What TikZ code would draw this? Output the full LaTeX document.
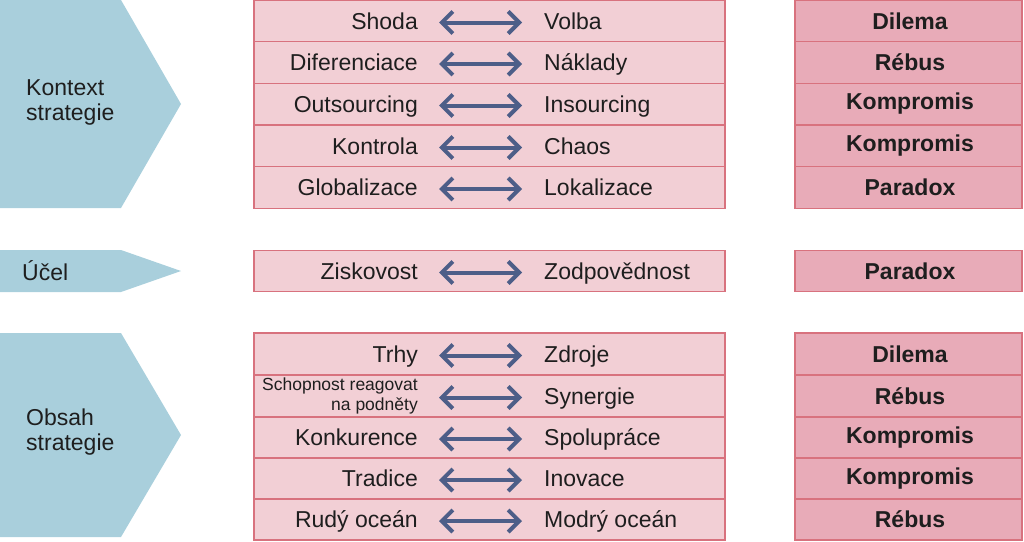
\documentclass[tikz,border=0pt]{standalone}
\usepackage{fontspec}
\setmainfont{Liberation Sans}
\usetikzlibrary{arrows.meta}
\definecolor{chev}{HTML}{A9CFDC}
\definecolor{midfill}{HTML}{F2CFD5}
\definecolor{rightfill}{HTML}{E8ABB8}
\definecolor{boxline}{HTML}{D8727E}
\definecolor{arrowc}{HTML}{4D5E88}
\definecolor{txt}{HTML}{1E1E1E}
\tikzset{
  chevshape/.style={fill=chev, draw=none},
  midbox/.style={draw=boxline, line width=1.2pt, fill=midfill, minimum width=471pt, inner sep=0pt, anchor=center},
  rightbox/.style={draw=boxline, line width=1.2pt, fill=rightfill, minimum width=227pt, inner sep=0pt, anchor=center},
  verdict/.style={inner sep=0pt, anchor=center, font=\fontsize{23}{27}\selectfont\bfseries, text=txt},
  lefttxt/.style={anchor=base east, inner sep=0pt, font=\fontsize{23}{27}\selectfont, text=txt},
  righttxt/.style={anchor=base west, inner sep=0pt, font=\fontsize{23}{27}\selectfont, text=txt},
  chevtxt/.style={anchor=west, inner sep=0pt, align=left, font=\fontsize{23}{25}\selectfont, text=txt},
  dbl/.style={draw=arrowc, line width=4pt, {Straight Barb[length=11pt,width=22pt]}-{Straight Barb[length=11pt,width=22pt]}}
}
\begin{document}
\begin{tikzpicture}[x=1pt,y=-1pt]
\useasboundingbox (0,0) rectangle (1024,541);
% chevrons
\fill[chevshape] (0,0) -- (121,0) -- (181,104) -- (121,208) -- (0,208) -- cycle;
\fill[chevshape] (0,250) -- (121,250) -- (181,271) -- (121,292) -- (0,292) -- cycle;
\fill[chevshape] (0,333) -- (121,333) -- (181,435) -- (121,537) -- (0,537) -- cycle;
\node[chevtxt] (kontext) at (26,102) {Kontext\\strategie};
\node[chevtxt] (ucel) at (22,271) {Účel};
\node[chevtxt] (obsah) at (26,432) {Obsah\\strategie};
% rows: y-center / height / left / right / verdict / name
\foreach \yc/\h/\l/\r/\v/\n in {
  21/41.5/Shoda/Volba/Dilema/a,
  62.5/41.5/Diferenciace/Náklady/Rébus/b,
  104/41.5/Outsourcing/Insourcing/Kompromis/c,
  146/41.5/Kontrola/Chaos/Kompromis/d,
  187.5/41.5/Globalizace/Lokalizace/Paradox/e,
  271/41.5/Ziskovost/Zodpovědnost/Paradox/f,
  354/42/Trhy/Zdroje/Dilema/g,
  396/42/{}/Synergie/Rébus/h,
  437.5/41/Konkurence/Spolupráce/Kompromis/i,
  478.5/41/Tradice/Inovace/Kompromis/j,
  519.5/41/Rudý oceán/Modrý oceán/Rébus/k}{
  \node[midbox, minimum height=\h pt] (m\n) at (489.5,\yc) {};
  \node[rightbox, minimum height=\h pt] (r\n) at (908.5,\yc) {};
  \node[verdict] (v\n) at (910,\yc) {\v};
  \node[lefttxt] (lt\n) at (418,\yc+8) {\l};
  \node[righttxt] (rt\n) at (544,\yc+8) {\r};
  \coordinate (al\n) at (439,\yc+1.5);
  \coordinate (ar\n) at (522,\yc+1.5);
  \draw[dbl] (al\n) -- (ar\n);
}
\node[anchor=east, inner sep=0pt, align=right, font=\fontsize{17.5}{20}\selectfont, text=txt] (schop) at (418,396) {Schopnost reagovat\\na podněty};
\end{tikzpicture}
\end{document}
